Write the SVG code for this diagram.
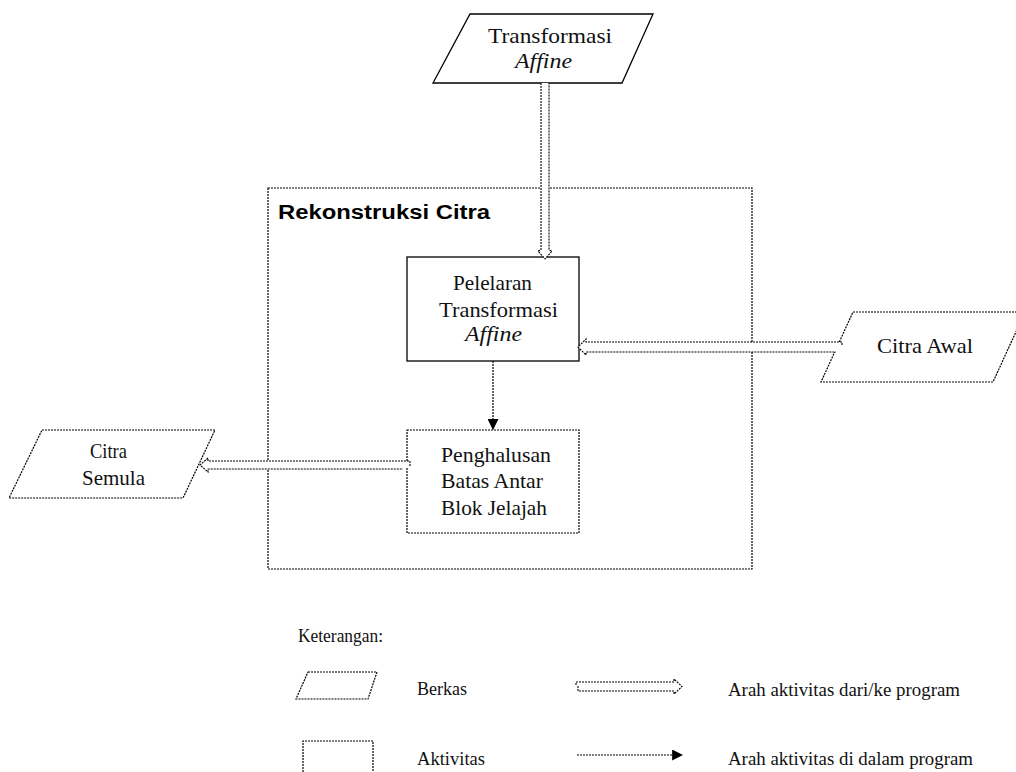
<svg xmlns="http://www.w3.org/2000/svg" width="1016" height="772" viewBox="0 0 1016 772">
<defs>
<style>
.solid{fill:none;stroke:#000;stroke-width:1.3}
.dot{fill:none;stroke:#000;stroke-width:1.2;stroke-dasharray:2 1}
.dbl{fill:#fff;stroke:#000;stroke-width:1.1;stroke-dasharray:2 1}
.t{font-family:"Liberation Serif","Times New Roman",serif;font-size:21.5px;fill:#111}
.i{font-style:italic}
.s{font-family:"Liberation Serif","Times New Roman",serif;font-size:19px;fill:#111}
.b{font-family:"Liberation Sans",Arial,sans-serif;font-size:20px;font-weight:bold;fill:#000}
</style>
<marker id="fa" viewBox="0 0 10 10" refX="9" refY="5" markerWidth="11" markerHeight="11" markerUnits="userSpaceOnUse" orient="auto">
<path d="M0,0 L10,5 L0,10 Z" fill="#000"/>
</marker>
</defs>
<rect width="1016" height="772" fill="#fff"/>

<g id="container">
<rect class="dot" x="268" y="188" width="484" height="381"/>
<text class="b" x="278" y="219" textLength="212" lengthAdjust="spacingAndGlyphs">Rekonstruksi Citra</text>
</g>

<g id="transformasi-affine">
<polygon class="solid" points="470,14 653,14 622,83 433,83"/>
<text class="t" x="488" y="43" textLength="124" lengthAdjust="spacingAndGlyphs">Transformasi</text>
<text class="t i" x="515" y="68" textLength="57" lengthAdjust="spacingAndGlyphs">Affine</text>
</g>

<g id="pelelaran">
<rect class="solid" x="407" y="257" width="172" height="104"/>
<text class="t" x="453" y="290" textLength="79" lengthAdjust="spacingAndGlyphs">Pelelaran</text>
<text class="t" x="439" y="317" textLength="119" lengthAdjust="spacingAndGlyphs">Transformasi</text>
<text class="t i" x="465" y="341" textLength="57" lengthAdjust="spacingAndGlyphs">Affine</text>
</g>

<g id="penghalusan">
<rect class="dot" x="407" y="430" width="172" height="103"/>
<text class="t" x="441" y="462" textLength="110" lengthAdjust="spacingAndGlyphs">Penghalusan</text>
<text class="t" x="441" y="488" textLength="102" lengthAdjust="spacingAndGlyphs">Batas Antar</text>
<text class="t" x="441" y="515" textLength="106" lengthAdjust="spacingAndGlyphs">Blok Jelajah</text>
</g>

<g id="citra-awal">
<polygon class="dot" points="853,312 1025,312 993,382 821,382"/>
<text class="t" x="877" y="353" textLength="96" lengthAdjust="spacingAndGlyphs">Citra Awal</text>
</g>

<g id="citra-semula">
<polygon class="dot" points="42,430 215,430 183,498 9,498"/>
<text class="t" x="90" y="458" textLength="37" lengthAdjust="spacingAndGlyphs">Citra</text>
<text class="t" x="82" y="485" textLength="63" lengthAdjust="spacingAndGlyphs">Semula</text>
</g>

<g id="connectors">
<path class="dbl" d="M541,83 V250 L538,251 L545,259 L552,251 L549,250 V83"/>
<path class="dbl" d="M842,345 V342 H586 V339 L578,347 L586,355 V352 H836"/>
<path class="dbl" d="M410,466 V461 H208 V458 L200,465 L208,472 V469 H403"/>
<line class="dot" x1="493" y1="361" x2="493" y2="429" marker-end="url(#fa)"/>
</g>

<g id="legend">
<text class="s" x="298" y="642" textLength="85" lengthAdjust="spacingAndGlyphs">Keterangan:</text>
<polygon class="dot" points="308,672 377,672 368,699 296,699"/>
<text class="s" x="417" y="695" textLength="50" lengthAdjust="spacingAndGlyphs">Berkas</text>
<path class="dot" d="M303,772 V741 H373 V772"/>
<text class="s" x="417" y="765" textLength="68" lengthAdjust="spacingAndGlyphs">Aktivitas</text>
<path class="dbl" d="M576,685 V682 H674 V679 L682,686.5 L674,694 V691 H578 V686"/>
<text class="s" x="728" y="696" textLength="232" lengthAdjust="spacingAndGlyphs">Arah aktivitas dari/ke program</text>
<line class="dot" x1="577" y1="755" x2="682" y2="755" marker-end="url(#fa)"/>
<text class="s" x="728" y="765" textLength="245" lengthAdjust="spacingAndGlyphs">Arah aktivitas di dalam program</text>
</g>
</svg>
